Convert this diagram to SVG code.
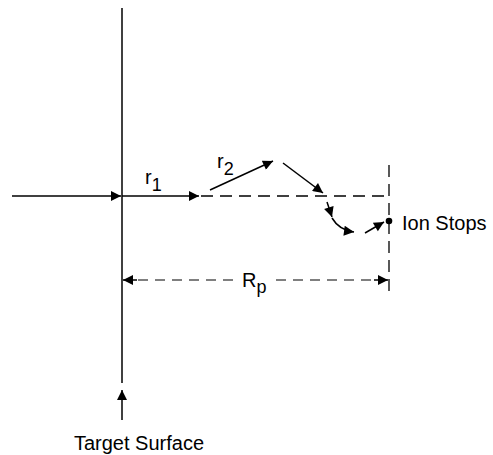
<svg xmlns="http://www.w3.org/2000/svg" width="493" height="455" viewBox="0 0 493 455">
<defs>
<marker id="ahL" viewBox="0 0 10 10" refX="10" refY="5" markerWidth="15" markerHeight="10" markerUnits="userSpaceOnUse" orient="auto"><path d="M0,0 L10,5 L0,10 z" fill="#000"/></marker>
</defs>
<style>
.ln{stroke:#000;stroke-width:1.5;fill:none}
.dash{stroke:#000;stroke-width:1.3;fill:none;stroke-dasharray:12,7}
.dim{stroke:#555;stroke-width:1.5;fill:none;stroke-dasharray:10,7}
text{font-family:"Liberation Sans",Arial,sans-serif;fill:#000;font-size:20px}
.sub{font-size:18px}
</style>
<rect width="493" height="455" fill="#fff"/>
<g id="connectors">
<line class="ln" x1="122" y1="8" x2="122" y2="383"/>
<line class="ln" x1="12" y1="196" x2="121" y2="196" marker-end="url(#ahL)"/>
<line class="ln" x1="122" y1="196" x2="199" y2="196" marker-end="url(#ahL)"/>
<line class="dash" x1="201" y1="196" x2="388" y2="196"/>
<line class="dash" x1="389" y1="165" x2="389" y2="297"/>
<line class="ln" x1="210" y1="190" x2="273" y2="161" marker-end="url(#ahL)"/>
<line class="ln" x1="283" y1="163" x2="323" y2="193" marker-end="url(#ahL)"/>
<line class="ln" x1="327" y1="202" x2="332" y2="217" marker-end="url(#ahL)"/>
<path class="ln" d="M332,218 Q339,230 354,232" marker-end="url(#ahL)"/>
<line class="ln" x1="365" y1="233" x2="384" y2="222" marker-end="url(#ahL)"/>
<circle cx="389" cy="221" r="3.3" fill="#000"/>
<line class="dim" x1="138" y1="280" x2="237" y2="280"/>
<line class="dim" x1="276" y1="280" x2="372" y2="280"/>
<line class="ln" x1="137" y1="280" x2="123" y2="280" marker-end="url(#ahL)"/>
<line class="ln" x1="374" y1="280" x2="388" y2="280" marker-end="url(#ahL)"/>
<line class="ln" x1="122" y1="420" x2="122" y2="390" marker-end="url(#ahL)"/>
</g>
<g id="labels">
<text x="145" y="184">r<tspan class="sub" dy="7">1</tspan></text>
<text x="217" y="168">r<tspan class="sub" dy="7">2</tspan></text>
<text x="402" y="230">Ion Stops</text>
<text x="242" y="287">R<tspan class="sub" dy="6">p</tspan></text>
<text x="139" y="450" text-anchor="middle">Target Surface</text>
</g>
</svg>
